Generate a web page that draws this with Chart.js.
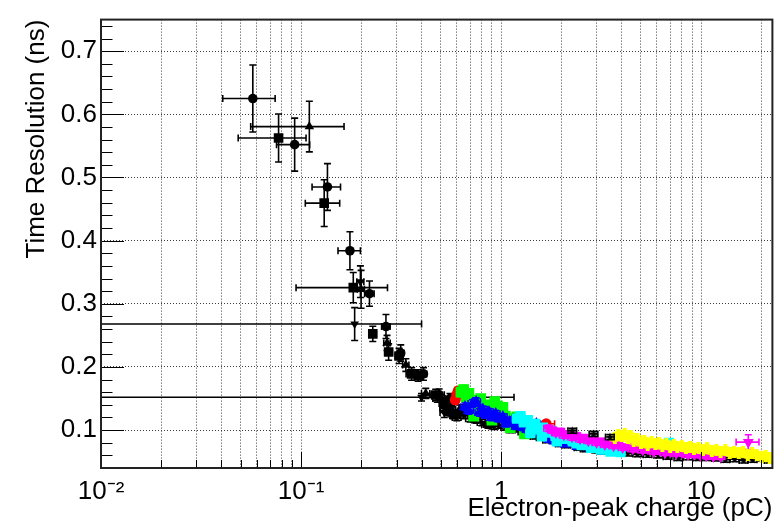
<!DOCTYPE html>
<html><head><meta charset="utf-8">
<script src="https://cdn.jsdelivr.net/npm/chart.js@4/dist/chart.umd.min.js"></script>
<style>html,body{margin:0;padding:0;background:#fff}canvas{display:block}</style>
</head><body>
<canvas id="c" width="780" height="527"></canvas>
<script>
// ---------- axis ticks / labels ----------
const XTICKS = [0.01,0.02,0.03,0.04,0.05,0.06,0.07,0.08,0.09,0.1,0.2,0.3,0.4,0.5,0.6,0.7,0.8,0.9,1,2,3,4,5,6,7,8,9,10,20];
const XLABEL_VALUES = [0.01, 0.1, 1, 10];
const XLABELS = ['10\u207B\u00B2', '10\u207B\u00B9', '1', '10'];
const YTICKS = [0.04,0.06,0.08,0.10,0.12,0.14,0.16,0.18,0.20,0.22,0.24,0.26,0.28,0.30,0.32,0.34,0.36,0.38,0.40,0.42,0.44,0.46,0.48,0.50,0.52,0.54,0.56,0.58,0.60,0.62,0.64,0.66,0.68,0.70,0.72,0.74];
const YLABEL_VALUES = [0.1, 0.2, 0.3, 0.4, 0.5, 0.6, 0.7];
const YLABELS = ['0.1', '0.2', '0.3', '0.4', '0.5', '0.6', '0.7'];

// ---------- series (x = charge pC, y = resolution ns, ex / ey = errors) ----------
// black triangles down
const btdX  = [0.1853, 0.198, 0.40, 0.52];
const btdY  = [0.268, 0.335, 0.152, 0.128];
const btdEX = [0.215, 0.008, 0.76, 0.025];
const btdEY = [0.026, 0.025, 0.006, 0.008];
// black circles
const bcX  = [0.0574, 0.0929, 0.1355, 0.1755, 0.2198, 0.2657, 0.315, 0.409, 0.49, 0.555, 0.86];
const bcY  = [0.625, 0.552, 0.485, 0.384, 0.316, 0.264, 0.222, 0.189, 0.156, 0.150, 0.109];
const bcEX = [0.0168, 0.0175, 0.022, 0.0225, 0.012, 0.013, 0.012, 0.016, 0.03, 0.03, 0.06];
const bcEY = [0.053, 0.042, 0.037, 0.030, 0.020, 0.019, 0.013, 0.010, 0.009, 0.008, 0.006];
// black squares
const bsX  = [0.0772, 0.1305, 0.1824, 0.2283, 0.274, 0.309, 0.357, 0.385, 0.471, 0.52, 0.545, 0.58];
const bsY  = [0.5625, 0.4594, 0.3256, 0.2524, 0.2236, 0.2174, 0.189, 0.1865, 0.1556, 0.142, 0.131, 0.125];
const bsEX = [0.0287, 0.0255, 0.088, 0.0095, 0.012, 0.014, 0.022, 0.015, 0.03, 0.03, 0.03, 0.03];
const bsEY = [0.038, 0.037, 0.024, 0.012, 0.013, 0.012, 0.010, 0.009, 0.009, 0.008, 0.008, 0.007];
// black triangles up
const btuX  = [0.110, 0.1995, 0.269, 0.334, 0.42, 0.56, 0.62];
const btuY  = [0.5806, 0.323, 0.238, 0.203, 0.158, 0.141, 0.133];
const btuEX = [0.054, 0.008, 0.01, 0.012, 0.02, 0.025, 0.03];
const btuEY = [0.040, 0.030, 0.012, 0.010, 0.008, 0.007, 0.007];
// black stars (lower edge of the band)
const stX  = [0.48, 0.52, 0.56, 0.60, 0.65, 0.70, 0.75, 0.80, 0.86, 0.92, 0.98, 1.05, 1.12, 1.20, 1.28, 1.37, 1.47, 1.58, 1.70, 1.83, 1.97, 2.12, 2.44, 2.62, 3.0, 3.2, 3.8, 4.3, 4.8, 5.4, 6.1, 6.8, 7.7, 8.6, 9.6, 10.7, 11.9, 13.2, 14.7, 16.3, 18.1, 20.0, 21.8];
const stY  = [0.150, 0.135, 0.128, 0.120, 0.123, 0.118, 0.116, 0.112, 0.109, 0.106, 0.108, 0.104, 0.100, 0.101, 0.097, 0.093, 0.090, 0.088, 0.084, 0.083, 0.078, 0.076, 0.072, 0.070, 0.068, 0.066, 0.066, 0.063, 0.062, 0.061, 0.060, 0.058, 0.056, 0.057, 0.056, 0.056, 0.055, 0.053, 0.054, 0.052, 0.053, 0.055, 0.052];
const stEX = [0.024, 0.026, 0.028, 0.03, 0.032, 0.035, 0.037, 0.04, 0.043, 0.046, 0.049, 0.052, 0.056, 0.06, 0.064, 0.068, 0.073, 0.079, 0.085, 0.091, 0.098, 0.106, 0.122, 0.131, 0.15, 0.16, 0.19, 0.215, 0.24, 0.27, 0.3, 0.34, 0.38, 0.43, 0.48, 0.53, 0.6, 0.66, 0.73, 0.81, 0.9, 1.0, 1.1];
const stEY = [0.006, 0.006, 0.005, 0.005, 0.005, 0.005, 0.005, 0.005, 0.005, 0.005, 0.005, 0.004, 0.004, 0.004, 0.004, 0.004, 0.004, 0.004, 0.004, 0.004, 0.004, 0.004, 0.004, 0.004, 0.004, 0.004, 0.004, 0.004, 0.004, 0.004, 0.004, 0.004, 0.004, 0.004, 0.004, 0.004, 0.004, 0.004, 0.004, 0.004, 0.004, 0.004, 0.004];
// black stars (upper, drawn over the band)
const st2X  = [2.27, 2.90, 3.50];
const st2Y  = [0.099, 0.094, 0.089];
const st2EX = [0.113, 0.145, 0.175];
const st2EY = [0.004, 0.004, 0.004];
// red
const redX  = [0.59, 0.60, 0.61, 1.68];
const redY  = [0.148, 0.156, 0.162, 0.110];
const redEX = [0.02, 0.02, 0.02, 0.17];
const redEY = [0.006, 0.006, 0.006, 0.004];
// green squares
const grX  = [0.63, 0.65, 0.67, 0.69, 0.71, 0.73, 0.75, 0.77, 0.79, 0.81, 0.84, 0.87, 0.90, 0.93, 0.96, 0.99, 1.02, 1.05, 1.08, 1.11, 1.15, 1.20, 1.25, 1.31, 1.38];
const grY  = [0.160, 0.164, 0.152, 0.158, 0.147, 0.122, 0.143, 0.136, 0.150, 0.131, 0.140, 0.126, 0.116, 0.145, 0.138, 0.128, 0.136, 0.122, 0.112, 0.104, 0.118, 0.121, 0.109, 0.094, 0.099];
const grEX = [0.03, 0.03, 0.03, 0.03, 0.035, 0.035, 0.035, 0.035, 0.04, 0.04, 0.04, 0.04, 0.045, 0.045, 0.045, 0.05, 0.05, 0.05, 0.05, 0.055, 0.055, 0.06, 0.06, 0.065, 0.065];
const grEY = [0.007, 0.007, 0.007, 0.006, 0.007, 0.006, 0.006, 0.006, 0.006, 0.006, 0.006, 0.005, 0.005, 0.006, 0.006, 0.005, 0.005, 0.005, 0.005, 0.005, 0.005, 0.005, 0.005, 0.004, 0.004];
// blue triangles
const blX  = [0.66, 0.69, 0.72, 0.75, 0.78, 0.81, 0.84, 0.87, 0.90, 0.94, 0.98, 1.02, 1.06, 1.10, 1.14, 1.19, 1.24, 1.29, 1.35, 1.42, 1.50, 1.58, 1.66, 1.75, 1.85, 1.96, 2.10, 2.4, 2.8, 3.3];
const blY  = [0.137, 0.131, 0.142, 0.145, 0.128, 0.133, 0.124, 0.129, 0.120, 0.126, 0.118, 0.121, 0.110, 0.113, 0.116, 0.106, 0.112, 0.104, 0.101, 0.108, 0.110, 0.097, 0.092, 0.085, 0.083, 0.080, 0.078, 0.074, 0.071, 0.067];
const blEX = [0.033, 0.035, 0.036, 0.038, 0.039, 0.041, 0.042, 0.044, 0.045, 0.047, 0.049, 0.051, 0.053, 0.055, 0.057, 0.06, 0.062, 0.065, 0.068, 0.071, 0.075, 0.079, 0.083, 0.088, 0.093, 0.098, 0.105, 0.12, 0.14, 0.165];
const blEY = [0.006, 0.006, 0.006, 0.006, 0.006, 0.005, 0.005, 0.005, 0.005, 0.005, 0.005, 0.005, 0.005, 0.005, 0.005, 0.005, 0.005, 0.005, 0.005, 0.005, 0.005, 0.005, 0.004, 0.004, 0.004, 0.004, 0.004, 0.004, 0.004, 0.004];
// cyan
const cyX  = [1.20, 1.25, 1.30, 1.36, 1.40, 1.42, 1.48, 1.55, 1.60, 1.62, 1.70, 1.78, 1.87, 1.90, 1.96, 2.06, 2.17, 2.28, 2.40, 2.53, 2.67, 2.82, 2.98, 3.15, 3.33, 3.52, 3.72, 3.95, 6.9];
const cyY  = [0.118, 0.122, 0.112, 0.116, 0.095, 0.106, 0.110, 0.101, 0.090, 0.104, 0.096, 0.099, 0.091, 0.082, 0.093, 0.086, 0.088, 0.082, 0.079, 0.076, 0.077, 0.072, 0.073, 0.069, 0.070, 0.066, 0.068, 0.065, 0.080];
const cyEX = [0.06, 0.062, 0.065, 0.068, 0.07, 0.071, 0.074, 0.078, 0.08, 0.081, 0.085, 0.089, 0.094, 0.095, 0.098, 0.103, 0.109, 0.114, 0.12, 0.127, 0.134, 0.141, 0.149, 0.158, 0.167, 0.176, 0.186, 0.198, 0.3];
const cyEY = [0.005, 0.005, 0.005, 0.005, 0.005, 0.005, 0.005, 0.005, 0.005, 0.005, 0.005, 0.005, 0.004, 0.004, 0.004, 0.004, 0.004, 0.004, 0.004, 0.004, 0.004, 0.004, 0.004, 0.004, 0.004, 0.004, 0.004, 0.004, 0.004];
// magenta triangles down
const mgX  = [1.72, 1.80, 1.88, 1.97, 2.06, 2.16, 2.26, 2.37, 2.48, 2.60, 2.73, 2.86, 3.00, 3.15, 3.30, 3.47, 3.65, 3.85, 4.05, 4.3, 4.55, 4.8, 5.1, 5.4, 5.8, 6.2, 6.6, 7.0, 7.5, 8.0, 8.6, 9.2, 9.9, 10.6, 11.5, 12.5, 17.2];
const mgY  = [0.103, 0.100, 0.096, 0.098, 0.092, 0.094, 0.089, 0.091, 0.086, 0.088, 0.083, 0.085, 0.080, 0.083, 0.077, 0.079, 0.075, 0.078, 0.072, 0.074, 0.070, 0.072, 0.068, 0.070, 0.066, 0.068, 0.064, 0.066, 0.063, 0.064, 0.061, 0.062, 0.060, 0.059, 0.058, 0.058, 0.081];
const mgEX = [0.086, 0.09, 0.094, 0.099, 0.103, 0.108, 0.113, 0.119, 0.124, 0.13, 0.137, 0.143, 0.15, 0.158, 0.165, 0.174, 0.183, 0.193, 0.2, 0.215, 0.23, 0.24, 0.255, 0.27, 0.29, 0.31, 0.33, 0.35, 0.375, 0.4, 0.43, 0.46, 0.5, 0.53, 0.58, 0.63, 2.25];
const mgEY = [0.005, 0.005, 0.005, 0.005, 0.005, 0.005, 0.005, 0.005, 0.005, 0.005, 0.004, 0.004, 0.004, 0.004, 0.004, 0.004, 0.004, 0.004, 0.004, 0.004, 0.004, 0.004, 0.004, 0.004, 0.004, 0.004, 0.004, 0.004, 0.004, 0.004, 0.004, 0.004, 0.004, 0.004, 0.004, 0.004, 0.0116];
// yellow crosses
const yeX  = [3.70, 3.85, 4.0, 4.15, 4.3, 4.45, 4.6, 4.8, 5.0, 5.2, 5.4, 5.65, 5.9, 6.15, 6.4, 6.7, 7.0, 7.3, 7.6, 8.0, 8.4, 8.8, 9.2, 9.7, 10.2, 10.7, 11.3, 11.9, 12.5, 13.2, 13.9, 14.6, 15.4, 16.2, 17.1, 18.0, 19.0, 20.0, 21.0, 22.0];
const yeY  = [0.088, 0.092, 0.090, 0.094, 0.087, 0.090, 0.083, 0.086, 0.080, 0.083, 0.077, 0.081, 0.078, 0.080, 0.075, 0.078, 0.074, 0.077, 0.073, 0.075, 0.071, 0.074, 0.070, 0.072, 0.068, 0.071, 0.067, 0.069, 0.066, 0.068, 0.064, 0.066, 0.063, 0.065, 0.061, 0.063, 0.060, 0.058, 0.059, 0.056];
const yeEX = [0.185, 0.19, 0.2, 0.21, 0.215, 0.22, 0.23, 0.24, 0.25, 0.26, 0.27, 0.28, 0.3, 0.31, 0.32, 0.34, 0.35, 0.37, 0.38, 0.4, 0.42, 0.44, 0.46, 0.49, 0.51, 0.54, 0.57, 0.6, 0.63, 0.66, 0.7, 0.73, 0.77, 0.81, 0.86, 0.9, 0.95, 1.0, 1.05, 1.1];
const yeEY = [0.005, 0.005, 0.005, 0.005, 0.005, 0.005, 0.005, 0.005, 0.005, 0.005, 0.005, 0.005, 0.005, 0.005, 0.005, 0.005, 0.005, 0.005, 0.005, 0.005, 0.005, 0.005, 0.005, 0.005, 0.005, 0.005, 0.005, 0.005, 0.005, 0.005, 0.005, 0.005, 0.005, 0.005, 0.005, 0.005, 0.005, 0.005, 0.005, 0.005];

// ---------- marker images (ROOT filled star / filled cross) ----------
function starMarker(color, R) {
  const s = Math.ceil(2 * R + 2), c = document.createElement('canvas');
  c.width = s; c.height = s;
  const g = c.getContext('2d');
  g.fillStyle = color; g.beginPath();
  for (let k = 0; k < 10; k++) {
    const r = k % 2 === 0 ? R : R * 0.42;
    const a = -Math.PI / 2 + k * Math.PI / 5;
    g.lineTo(s / 2 + r * Math.cos(a), s / 2 + r * Math.sin(a));
  }
  g.closePath(); g.fill();
  return c;
}
function crossMarker(color, L, W) {
  const c = document.createElement('canvas');
  c.width = L; c.height = L;
  const g = c.getContext('2d');
  g.fillStyle = color;
  g.fillRect((L - W) / 2, 0, W, L);
  g.fillRect(0, (L - W) / 2, L, W);
  return c;
}

function series(label, X, Y, EX, EY, color, style, radius, rotation) {
  return {
    label,
    data: X.map((x, i) => ({ x, y: Y[i] })),
    errX: EX, errY: EY, errColor: color,
    pointStyle: style, pointRadius: radius, pointRotation: rotation || 0,
    pointBackgroundColor: color, pointBorderColor: color, pointBorderWidth: 0,
    pointHoverRadius: radius
  };
}

// drawing order: first entry at the bottom, last on top
const starImg = starMarker('#000000', 4.3);
const list = [
  series('black triangles down', btdX, btdY, btdEX, btdEY, '#000000', 'triangle', 5, 180),
  series('black stars', stX, stY, stEX, stEY, '#000000', starImg, 4),
  series('black circles', bcX, bcY, bcEX, bcEY, '#000000', 'circle', 4.8),
  series('black squares', bsX, bsY, bsEX, bsEY, '#000000', 'rect', 6.8),
  series('black triangles', btuX, btuY, btuEX, btuEY, '#000000', 'triangle', 5.5),
  series('red', redX, redY, redEX, redEY, '#ff0000', 'circle', 5.5),
  series('green', grX, grY, grEX, grEY, '#00ff00', 'rect', 7.6),
  series('blue', blX, blY, blEX, blEY, '#0000ff', 'triangle', 6.8),
  series('cyan', cyX, cyY, cyEX, cyEY, '#00ffff', 'rect', 7.2),
  series('magenta', mgX, mgY, mgEX, mgEY, '#ff00ff', 'triangle', 6.3, 180),
  series('yellow', yeX, yeY, yeEX, yeEY, '#ffff00', crossMarker('#ffff00', 12, 4), 5),
  series('black stars (upper)', st2X, st2Y, st2EX, st2EY, '#000000', starImg, 4)
];
list.forEach((d, i) => { d.order = list.length - i; });

const near = (a, b) => Math.abs(a - b) < 1e-9 * Math.max(1, Math.abs(b)) + 1e-9;
const isXMajor = v => XLABEL_VALUES.some(m => near(v, m));
const isYMajor = v => YLABEL_VALUES.some(m => Math.abs(v - m) < 1e-6);

// ---------- plugins ----------
const errorBars = {
  id: 'errorBars',
  beforeDatasetDraw(chart, args) {
    const ds = chart.data.datasets[args.index];
    if (!ds.errX) return;
    const xs = chart.scales.x, ys = chart.scales.y, a = chart.chartArea, ctx = chart.ctx;
    ctx.save();
    ctx.beginPath(); ctx.rect(a.left, a.top, a.right - a.left, a.bottom - a.top); ctx.clip();
    ctx.strokeStyle = ds.errColor; ctx.lineWidth = 1.6;
    const cap = 3.5;
    ctx.beginPath();
    ds.data.forEach((p, i) => {
      const ex = ds.errX[i], ey = ds.errY[i];
      const px = xs.getPixelForValue(p.x), py = ys.getPixelForValue(p.y);
      const lo = p.x - ex;
      const x0 = lo > 0 ? xs.getPixelForValue(lo) : a.left - 20;
      const x1 = xs.getPixelForValue(p.x + ex);
      const y0 = ys.getPixelForValue(p.y - ey), y1 = ys.getPixelForValue(p.y + ey);
      ctx.moveTo(x0, py); ctx.lineTo(x1, py);
      ctx.moveTo(px, y0); ctx.lineTo(px, y1);
      if (lo > 0) { ctx.moveTo(x0, py - cap); ctx.lineTo(x0, py + cap); }
      ctx.moveTo(x1, py - cap); ctx.lineTo(x1, py + cap);
      ctx.moveTo(px - cap, y0); ctx.lineTo(px + cap, y0);
      ctx.moveTo(px - cap, y1); ctx.lineTo(px + cap, y1);
    });
    ctx.stroke();
    ctx.restore();
  }
};

const frameTicks = {
  id: 'frameTicks',
  afterDraw(chart) {
    const xs = chart.scales.x, ys = chart.scales.y, a = chart.chartArea, ctx = chart.ctx;
    ctx.save();
    ctx.strokeStyle = '#000'; ctx.lineWidth = 1;
    ctx.beginPath();
    YTICKS.forEach(v => {
      const y = Math.round(ys.getPixelForValue(v)) + 0.5;
      ctx.moveTo(a.left, y); ctx.lineTo(a.left + (isYMajor(v) ? 23 : 11.5), y);
    });
    XTICKS.forEach(v => {
      const x = Math.round(xs.getPixelForValue(v)) + 0.5;
      ctx.moveTo(x, a.bottom); ctx.lineTo(x, a.bottom - (isXMajor(v) ? 16 : 8));
    });
    ctx.stroke();
    ctx.lineWidth = 2; ctx.strokeStyle = '#222';
    ctx.strokeRect(a.left, a.top, a.right - a.left, a.bottom - a.top);
    ctx.restore();
  }
};

const FONT = 'Liberation Sans, Arial, Helvetica, sans-serif';
const GRID = '#3a3a3a';

new Chart(document.getElementById('c'), {
  type: 'scatter',
  data: { datasets: list },
  options: {
    responsive: false,
    animation: false,
    events: [],
    layout: { padding: { left: 0, right: 2, top: 9, bottom: 0 } },
    plugins: { legend: { display: false }, tooltip: { enabled: false } },
    scales: {
      x: {
        type: 'logarithmic',
        min: 0.01, max: 22.7,
        afterBuildTicks: s => { s.ticks = XTICKS.map(v => ({ value: v, major: isXMajor(v) })); },
        afterFit: s => { s.height = 59; },
        ticks: {
          autoSkip: false, maxRotation: 0, minRotation: 0, padding: 8,
          color: '#000', font: { family: FONT, size: 26 },
          callback: v => { const k = XLABEL_VALUES.findIndex(m => near(v, m)); return k >= 0 ? XLABELS[k] : ''; }
        },
        grid: {
          drawTicks: false,
          color: c => (c.tick && near(c.tick.value, 0.01)) ? 'rgba(0,0,0,0)' : GRID,
          lineWidth: 1
        },
        border: { display: false, dash: [1, 2] },
        title: {
          display: true, text: 'Electron-peak charge (pC)', align: 'end', color: '#000',
          font: { family: FONT, size: 26 }, padding: { top: 0, bottom: 3 }
        }
      },
      y: {
        type: 'linear',
        min: 0.04, max: 0.75,
        afterBuildTicks: s => { s.ticks = YTICKS.map(v => ({ value: v })); },
        afterFit: s => { s.width = 101; },
        ticks: {
          autoSkip: false, padding: 4,
          color: '#000', font: { family: FONT, size: 26 },
          callback: v => { const k = YLABEL_VALUES.findIndex(m => Math.abs(v - m) < 1e-6); return k >= 0 ? YLABELS[k] : null; }
        },
        grid: { drawTicks: false, color: GRID, lineWidth: 1 },
        border: { display: false, dash: [1, 2] },
        title: {
          display: true, text: 'Time Resolution (ns)', align: 'end', color: '#000',
          font: { family: FONT, size: 26 }, padding: { top: 21, bottom: 0 }
        }
      }
    }
  },
  plugins: [errorBars, frameTicks]
});
</script>
</body></html>
